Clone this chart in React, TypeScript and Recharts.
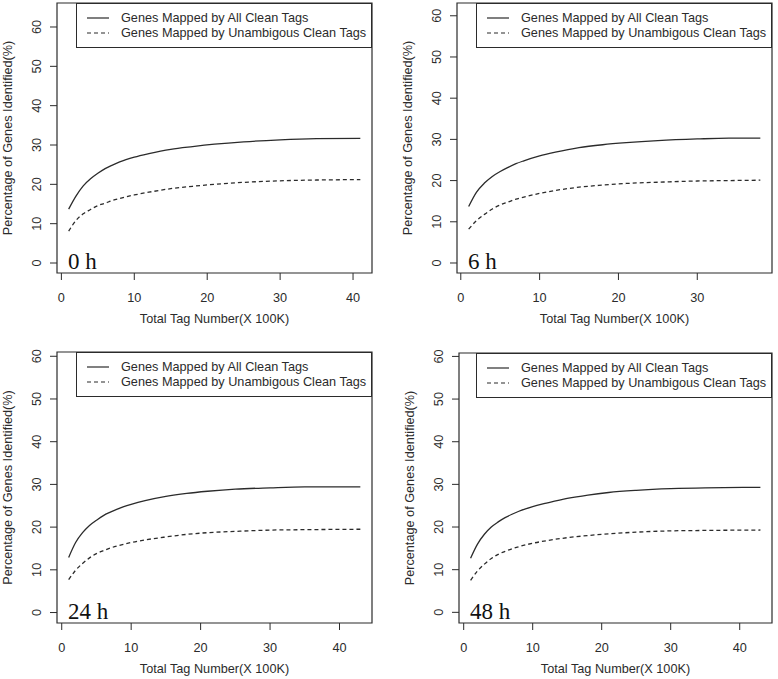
import React from "react";
import {
  Legend,
  Line,
  LineChart,
  ReferenceArea,
  XAxis,
  YAxis,
} from "recharts";

const FONT = '"Liberation Sans", Arial, Helvetica, sans-serif';
const SERIF = '"Liberation Serif", "Times New Roman", serif';
const INK = "#2b2b2b";
const FS = 12.7;

const allName = "Genes Mapped by All Clean Tags";
const unambName = "Genes Mapped by Unambigous Clean Tags";
const xTitle = "Total Tag Number(X 100K)";
const yTitle = "Percentage of Genes Identified(%)";
const yTicks = [0, 10, 20, 30, 40, 50, 60];

// 0 h
const xs0 = [1, 2, 3, 4, 5, 6, 7, 8, 10, 12, 15, 18, 21, 25, 30, 35, 41];
const all0 = [13.7, 17.0, 19.6, 21.4, 22.8, 24.0, 24.9, 25.7, 26.9, 27.8, 28.9, 29.6, 30.2, 30.8, 31.3, 31.6, 31.7];
const unamb0 = [8.1, 10.8, 12.5, 13.6, 14.6, 15.2, 15.9, 16.4, 17.3, 18.0, 18.9, 19.5, 20.0, 20.5, 20.9, 21.1, 21.2];

// 6 h
const xs6 = [1, 2, 3, 4, 5, 6, 7, 8, 10, 12, 15, 18, 21, 25, 30, 34, 38];
const all6 = [13.7, 17.2, 19.4, 21.0, 22.2, 23.2, 24.1, 24.8, 26.0, 26.9, 28.0, 28.7, 29.2, 29.7, 30.1, 30.3, 30.3];
const unamb6 = [8.2, 10.3, 11.8, 13.1, 14.1, 14.8, 15.5, 16.0, 16.9, 17.6, 18.4, 18.9, 19.3, 19.6, 19.9, 20.0, 20.1];

// 24 h
const xs24 = [1, 2, 3, 4, 5, 6, 7, 8, 10, 12, 15, 18, 21, 25, 30, 35, 43];
const all24 = [12.9, 16.4, 18.7, 20.4, 21.6, 22.7, 23.5, 24.2, 25.3, 26.2, 27.2, 27.9, 28.4, 28.9, 29.2, 29.4, 29.4];
const unamb24 = [7.7, 9.9, 11.5, 12.8, 13.8, 14.5, 15.1, 15.6, 16.4, 17.0, 17.7, 18.3, 18.7, 19.0, 19.3, 19.4, 19.5];

// 48 h
const xs48 = [1, 2, 3, 4, 5, 6, 7, 8, 10, 12, 15, 18, 21, 25, 30, 35, 43];
const all48 = [12.7, 16.0, 18.3, 20.0, 21.2, 22.2, 23.0, 23.7, 24.8, 25.6, 26.7, 27.5, 28.1, 28.6, 29.0, 29.2, 29.3];
const unamb48 = [7.5, 9.7, 11.3, 12.6, 13.6, 14.3, 14.9, 15.4, 16.2, 16.8, 17.5, 18.0, 18.4, 18.8, 19.1, 19.2, 19.3];

type PanelProps = {
  label: string;
  xs: number[];
  all: number[];
  unamb: number[];
  xTicks: number[];
  xDomain: [number, number];
  yDomain: [number, number];
  left: number;
  top: number;
  width: number;
  height: number;
  margin: { top: number; right: number; bottom: number; left: number };
  yWidth: number;
};

const LEGEND_W = 296;
const LEGEND_H = 45;

function LegendBox({ payload }: any) {
  const items = payload && payload.length ? payload : [];
  return (
    <div
      style={{
        boxSizing: "border-box",
        width: LEGEND_W,
        height: LEGEND_H,
        border: `1px solid ${INK}`,
        background: "#fff",
        fontFamily: FONT,
        fontSize: FS,
        color: INK,
        paddingTop: 6,
      }}
    >
      {items.map((entry: any) => (
        <div key={entry.value} style={{ display: "flex", alignItems: "center", height: 15 }}>
          <svg width={44} height={10} style={{ flex: "none" }}>
            <line
              x1={10}
              x2={32}
              y1={5}
              y2={5}
              stroke={INK}
              strokeWidth={1.2}
              strokeDasharray={entry.payload?.strokeDasharray}
            />
          </svg>
          <span style={{ whiteSpace: "nowrap" }}>{entry.value}</span>
        </div>
      ))}
    </div>
  );
}

function Panel(p: PanelProps) {
  const data = p.xs.map((x, i) => ({ x, all: p.all[i], unamb: p.unamb[i] }));
  const boxLeft = p.margin.left + p.yWidth;
  const boxRight = p.width - p.margin.right;

  const YTick = ({ y, payload }: any) => {
    const tx = boxLeft - 16;
    return (
      <text
        x={tx}
        y={y}
        transform={`rotate(-90, ${tx}, ${y})`}
        textAnchor="middle"
        fontSize={FS}
        fontFamily={FONT}
        fill={INK}
      >
        {payload.value}
      </text>
    );
  };

  return (
    <div style={{ position: "absolute", left: p.left, top: p.top }}>
      <LineChart width={p.width} height={p.height} data={data} margin={p.margin}>
        <XAxis
          dataKey="x"
          type="number"
          domain={p.xDomain}
          ticks={p.xTicks}
          interval={0}
          allowDataOverflow
          axisLine={false}
          tickLine={{ stroke: INK }}
          tickSize={7}
          tickMargin={13}
          height={50}
          tick={{ fontSize: FS, fontFamily: FONT, fill: INK }}
          label={{
            content: ({ viewBox }: any) => (
              <text
                x={viewBox.x + viewBox.width / 2}
                y={viewBox.y + 50}
                textAnchor="middle"
                fontSize={FS}
                fontFamily={FONT}
                fill={INK}
              >
                {xTitle}
              </text>
            ),
          }}
        />
        <YAxis
          type="number"
          domain={p.yDomain}
          ticks={yTicks}
          interval={0}
          allowDataOverflow
          axisLine={false}
          tickLine={{ stroke: INK }}
          tickSize={7}
          width={p.yWidth}
          tick={YTick}
          label={{
            content: ({ viewBox }: any) => {
              const tx = boxLeft - 45;
              const ty = viewBox.y + viewBox.height / 2;
              return (
                <text
                  x={tx}
                  y={ty}
                  transform={`rotate(-90, ${tx}, ${ty})`}
                  textAnchor="middle"
                  fontSize={FS}
                  fontFamily={FONT}
                  fill={INK}
                >
                  {yTitle}
                </text>
              );
            },
          }}
        />
        <ReferenceArea
          x1={p.xDomain[0]}
          x2={p.xDomain[1]}
          y1={p.yDomain[0]}
          y2={p.yDomain[1]}
          ifOverflow="visible"
          fill="none"
          stroke={INK}
          strokeWidth={1.2}
          label={{
            content: ({ viewBox }: any) => (
              <text
                x={viewBox.x + 11}
                y={viewBox.y + viewBox.height - 4}
                fontSize={23}
                fontFamily={SERIF}
                fill="#111"
              >
                {p.label}
              </text>
            ),
          }}
        />
        <Line
          type="monotone"
          dataKey="all"
          name={allName}
          stroke={INK}
          strokeWidth={1.3}
          dot={false}
          isAnimationActive={false}
        />
        <Line
          type="monotone"
          dataKey="unamb"
          name={unambName}
          stroke={INK}
          strokeWidth={1.3}
          strokeDasharray="4 3"
          dot={false}
          isAnimationActive={false}
        />
        <Legend
          layout="horizontal"
          verticalAlign="middle"
          align="center"
          content={LegendBox}
          wrapperStyle={{
            position: "absolute",
            left: boxRight - LEGEND_W,
            top: p.margin.top,
            width: LEGEND_W,
            height: LEGEND_H,
          }}
        />
      </LineChart>
    </div>
  );
}

export default function App() {
  return (
    <div
      style={{
        position: "absolute",
        left: 0,
        top: 0,
        width: 778,
        height: 679,
        background: "#fff",
        overflow: "hidden",
      }}
    >
      <Panel
        label="0 h"
        xs={xs0}
        all={all0}
        unamb={unamb0}
        xTicks={[0, 10, 20, 30, 40]}
        xDomain={[-0.6, 42.6]}
        yDomain={[-2.54, 66.1]}
        left={0}
        top={0}
        width={390}
        height={340}
        margin={{ top: 3, right: 18, bottom: 17, left: 0 }}
        yWidth={57}
      />
      <Panel
        label="6 h"
        xs={xs6}
        all={all6}
        unamb={unamb6}
        xTicks={[0, 10, 20, 30]}
        xDomain={[-0.48, 39.48]}
        yDomain={[-2.43, 63.1]}
        left={390}
        top={0}
        width={388}
        height={340}
        margin={{ top: 3, right: 6, bottom: 17, left: 0 }}
        yWidth={67}
      />
      <Panel
        label="24 h"
        xs={xs24}
        all={all24}
        unamb={unamb24}
        xTicks={[0, 10, 20, 30, 40]}
        xDomain={[-0.68, 44.68]}
        yDomain={[-2.45, 61.0]}
        left={0}
        top={340}
        width={390}
        height={339}
        margin={{ top: 12, right: 18, bottom: 6, left: 0 }}
        yWidth={57}
      />
      <Panel
        label="48 h"
        xs={xs48}
        all={all48}
        unamb={unamb48}
        xTicks={[0, 10, 20, 30, 40]}
        xDomain={[-0.68, 44.68]}
        yDomain={[-2.5, 60.8]}
        left={390}
        top={340}
        width={388}
        height={339}
        margin={{ top: 13, right: 6, bottom: 6, left: 0 }}
        yWidth={69}
      />
    </div>
  );
}
